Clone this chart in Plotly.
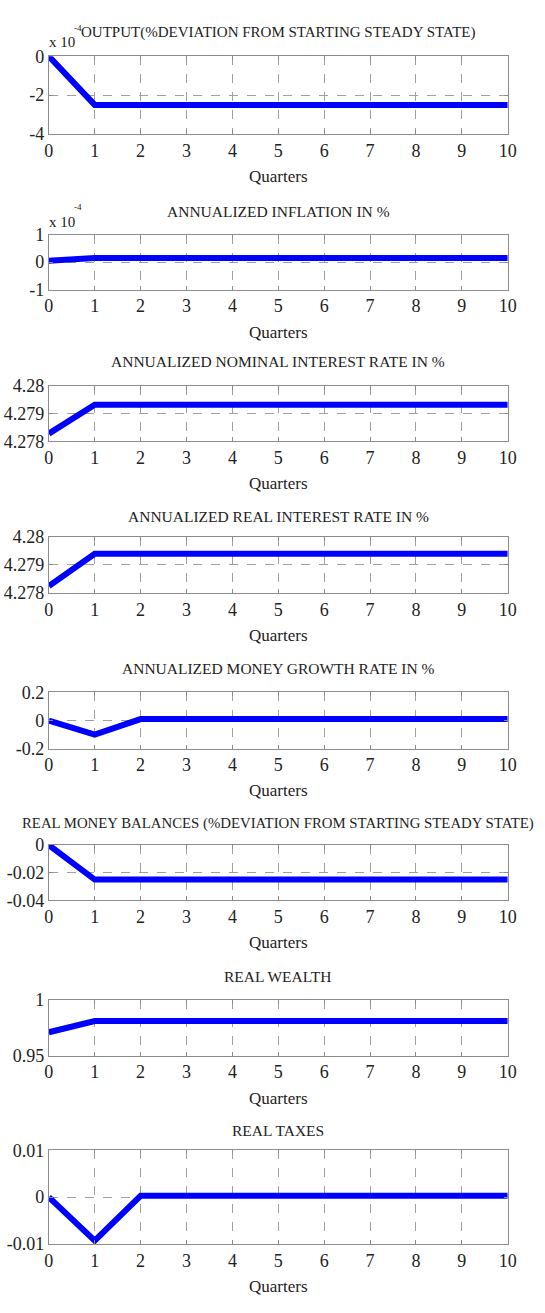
import plotly.graph_objects as go

# Impulse responses over 10 quarters
quarters = [0, 1, 2, 3, 4, 5, 6, 7, 8, 9, 10]

output_dev = [0, -2.5e-4, -2.5e-4, -2.5e-4, -2.5e-4, -2.5e-4, -2.5e-4, -2.5e-4, -2.5e-4, -2.5e-4, -2.5e-4]
inflation = [0.05e-4, 0.15e-4, 0.15e-4, 0.15e-4, 0.15e-4, 0.15e-4, 0.15e-4, 0.15e-4, 0.15e-4, 0.15e-4, 0.15e-4]
nominal_rate = [4.27828, 4.27933, 4.27933, 4.27933, 4.27933, 4.27933, 4.27933, 4.27933, 4.27933, 4.27933, 4.27933]
real_rate = [4.27825, 4.27940, 4.27940, 4.27940, 4.27940, 4.27940, 4.27940, 4.27940, 4.27940, 4.27940, 4.27940]
money_growth = [0, -0.1, 0.01, 0.01, 0.01, 0.01, 0.01, 0.01, 0.01, 0.01, 0.01]
real_money = [0, -0.025, -0.025, -0.025, -0.025, -0.025, -0.025, -0.025, -0.025, -0.025, -0.025]
real_wealth = [0.971, 0.981, 0.981, 0.981, 0.981, 0.981, 0.981, 0.981, 0.981, 0.981, 0.981]
real_taxes = [0, -0.0093, 0.0003, 0.0003, 0.0003, 0.0003, 0.0003, 0.0003, 0.0003, 0.0003, 0.0003]

titles = [
    "OUTPUT(%DEVIATION FROM STARTING STEADY STATE)",
    "ANNUALIZED INFLATION IN %",
    "ANNUALIZED NOMINAL INTEREST RATE IN %",
    "ANNUALIZED REAL INTEREST RATE IN %",
    "ANNUALIZED MONEY GROWTH RATE IN %",
    "REAL MONEY BALANCES (%DEVIATION FROM STARTING STEADY STATE)",
    "REAL WEALTH",
    "REAL TAXES",
]
series = [output_dev, inflation, nominal_rate, real_rate, money_growth, real_money, real_wealth, real_taxes]

y_tickvals = [
    [-4e-4, -2e-4, 0],
    [-1e-4, 0, 1e-4],
    [4.278, 4.279, 4.28],
    [4.278, 4.279, 4.28],
    [-0.2, 0, 0.2],
    [-0.04, -0.02, 0],
    [0.95, 1],
    [-0.01, 0, 0.01],
]
y_ticktext = [
    ["-4", "-2", "0"],
    ["-1", "0", "1"],
    ["4.278", "4.279", "4.28"],
    ["4.278", "4.279", "4.28"],
    ["-0.2", "0", "0.2"],
    ["-0.04", "-0.02", "0"],
    ["0.95", "1"],
    ["-0.01", "0", "0.01"],
]
x_label = "Quarters"
scale_label = "x 10"
scale_exp = "-4"

# Page geometry in pixels (top, bottom of each axes frame)
W, H = 545, 1313
frames = [(47, 126), (228, 284), (382, 438), (535, 592), (693, 750), (848, 904), (1005, 1062), (1158, 1253)]
title_gap = [24, 23, 25, 21, 24, 22, 24, 20]
title_size = [15, 15.5, 15.5, 15.5, 15.5, 14.8, 15.5, 15.5]
x_left, x_right = 45, 516

FONT = "Liberation Serif"
TXT = "#222222"
FRAME = "#8c8c8c"
GRID = "#a0a0a0"


def px_x(p):
    return p / W


def px_y(p):
    return 1 - p / H


fig = go.Figure()
annotations = []
for i, (vals, title) in enumerate(zip(series, titles)):
    n = i + 1
    xa = "x" if n == 1 else f"x{n}"
    ya = "y" if n == 1 else f"y{n}"
    fig.add_trace(go.Scatter(
        x=quarters, y=vals, mode="lines",
        line=dict(color="#0000ff", width=6),
        xaxis=xa, yaxis=ya, showlegend=False, hoverinfo="skip",
    ))
    top, bot = frames[i]
    common = dict(
        showline=True, linecolor=FRAME, linewidth=1, mirror="ticks",
        showgrid=True, gridcolor=GRID, griddash="dash", gridwidth=1,
        zeroline=False, ticks="inside", ticklen=4, tickcolor=FRAME,
        tickfont=dict(family=FONT, size=18, color=TXT),
    )
    fig.layout[f"xaxis{'' if n == 1 else n}"] = dict(
        domain=[px_x(x_left), px_x(x_right)], anchor=ya,
        range=[0, 10], tickmode="array", tickvals=quarters,
        ticktext=[str(q) for q in quarters], **common,
    )
    fig.layout[f"yaxis{'' if n == 1 else n}"] = dict(
        domain=[px_y(bot), px_y(top)], anchor=xa,
        range=[y_tickvals[i][0], y_tickvals[i][-1]], tickmode="array",
        tickvals=y_tickvals[i], ticktext=y_ticktext[i], **common,
    )
    cx = px_x((x_left + x_right) / 2)
    annotations.append(dict(
        text=title, x=cx, y=px_y(top - title_gap[i]), xref="paper", yref="paper",
        showarrow=False, xanchor="center", yanchor="middle",
        font=dict(family=FONT, size=title_size[i], color=TXT),
    ))
    annotations.append(dict(
        text=x_label, x=cx, y=px_y(bot + 43), xref="paper", yref="paper",
        showarrow=False, xanchor="center", yanchor="middle",
        font=dict(family=FONT, size=17, color=TXT),
    ))

# Scale factor labels on the first two panels
for top, dy in [(frames[0][0], 14), (frames[1][0], 13)]:
    annotations.append(dict(
        text=scale_label, x=px_x(43), y=px_y(top - dy), xref="paper", yref="paper",
        showarrow=False, xanchor="left", yanchor="middle",
        font=dict(family=FONT, size=15, color=TXT),
    ))
    annotations.append(dict(
        text=scale_exp, x=px_x(69), y=px_y(top - dy - 15), xref="paper", yref="paper",
        showarrow=False, xanchor="left", yanchor="middle",
        font=dict(family=FONT, size=9, color=TXT),
    ))

fig.update_layout(
    width=W, height=H, autosize=False,
    margin=dict(l=0, r=0, t=0, b=0),
    paper_bgcolor="white", plot_bgcolor="white",
    annotations=annotations,
)

fig.write_html("out.html")
